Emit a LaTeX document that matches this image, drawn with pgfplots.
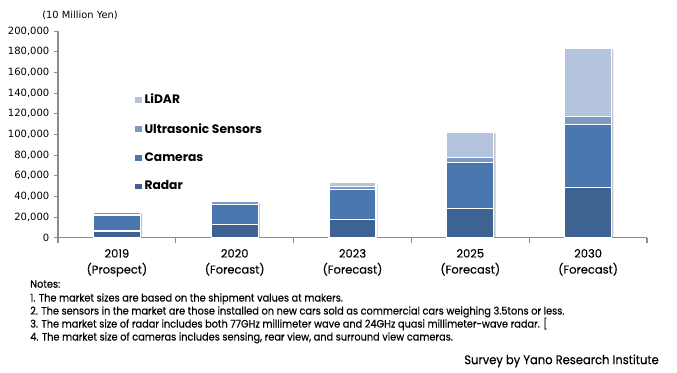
\documentclass[border=0pt]{standalone}
\usepackage{fontspec}
\usepackage{pgfplots}
\pgfplotsset{compat=1.18}
\setmainfont{Poppins}[FakeBold=0.3]
\newfontfamily\tickfont{DejaVu Sans}
\newfontfamily\notesfont{Poppins}[FakeStretch=0.915,FakeBold=0.4]
\newfontfamily\survfont{Poppins}[FakeStretch=0.92,FakeBold=0.4]
\newfontfamily\legfont{Poppins}
\definecolor{cRadar}{HTML}{3E6392}
\definecolor{cCam}{HTML}{4A78AE}
\definecolor{cUltra}{HTML}{7D9AC7}
\definecolor{cLidar}{HTML}{B4C4DE}
\definecolor{axgray}{HTML}{8C8C8C}
\begin{document}
\begin{tikzpicture}
\begin{scope}[x=0.75pt,y=-0.75pt]
\path[use as bounding box] (0,0) rectangle (677,373);
\node[font=\tickfont\fontsize{7.4}{8}\selectfont] at (80,15) {(10 Million Yen)};
\node[font=\notesfont\fontsize{8}{9.75}\selectfont, anchor=north west, align=left, inner sep=0pt] at (30,280)
{Notes:\\[0.6pt]
1. The market sizes are based on the shipment values at makers.\\
2. The sensors in the market are those installed on new cars sold as commercial cars weighing 3.5tons or less.\\
3. The market size of radar includes both 77GHz millimeter wave and 24GHz quasi millimeter-wave radar. [\\
4. The market size of cameras includes sensing, rear view, and surround view cameras.};
\node[font=\survfont\fontsize{9.4}{10}\selectfont, anchor=east, inner sep=0pt] at (659,361) {Survey by Yano Research Institute};
\end{scope}
% shadow of the bars
\begin{axis}[
  at={(43.5pt,-178.3pt)}, anchor=south west,
  scale only axis, width=441.75pt, height=155pt,
  ymin=0, ymax=200000, xmin=-0.5, xmax=4.5,
  hide axis, ybar, bar width=35.25pt, bar shift=1.3pt,
]
\addplot[fill=black!22, draw=none] coordinates {(0,23600) (1,33600) (2,52000) (3,101000) (4,182300)};
\end{axis}
\begin{axis}[
  at={(43.5pt,-178.3pt)}, anchor=south west,
  scale only axis, width=441.75pt, height=155pt,
  ybar stacked, bar width=35.25pt,
  ymin=0, ymax=200000, ytick={0,20000,...,200000},
  scaled y ticks=false,
  xmin=-0.5, xmax=4.5, xtick={0,...,4},
  xticklabels={{2019\\(Prospect)},{2020\\(Forecast)},{2023\\(Forecast)},{2025\\(Forecast)},{2030\\(Forecast)}},
  xticklabel style={align=center, font=\fontsize{8.6}{12}\selectfont, yshift=-2pt},
  minor xtick={-0.5,0.5,...,4.5},
  axis x line*=bottom, axis y line*=left,
  axis line style={axgray, line width=0.8pt},
  every tick/.style={axgray, line width=0.8pt},
  tick align=outside,
  major tick length=3pt,
  minor tick length=4pt,
  major x tick style={draw=none},
  yticklabel style={font=\tickfont\fontsize{7.5}{8}\selectfont, /pgf/number format/.cd, fixed, 1000 sep={,}, assume math mode=true},
  every axis plot/.append style={draw=white, line width=0.8pt},
  legend image code/.code={\fill[#1,draw=none] (0pt,-2pt) rectangle (5.3pt,2pt);},
  reverse legend,
  legend cell align=left,
  legend style={at={(0.13,0.71)}, anchor=north west, draw=none, fill=none,
    font=\legfont\bfseries\fontsize{9.2}{10}\selectfont, row sep=9.1pt,
    inner sep=0pt, /tikz/every odd column/.append style={inner xsep=1pt}},
]
\addplot[fill=cRadar] coordinates {(0,6500) (1,12500) (2,18000) (3,28000) (4,48400)};
\addplot[fill=cCam] coordinates {(0,15500) (1,20000) (2,28800) (3,44600) (4,61000)};
\addplot[fill=cUltra] coordinates {(0,2500) (1,2300) (2,2600) (3,4800) (4,7700)};
\addplot[fill=cLidar] coordinates {(0,0) (1,0) (2,3800) (3,24900) (4,66400)};
\legend{Radar,Cameras,Ultrasonic Sensors,LiDAR}
\end{axis}
\end{tikzpicture}
\end{document}
